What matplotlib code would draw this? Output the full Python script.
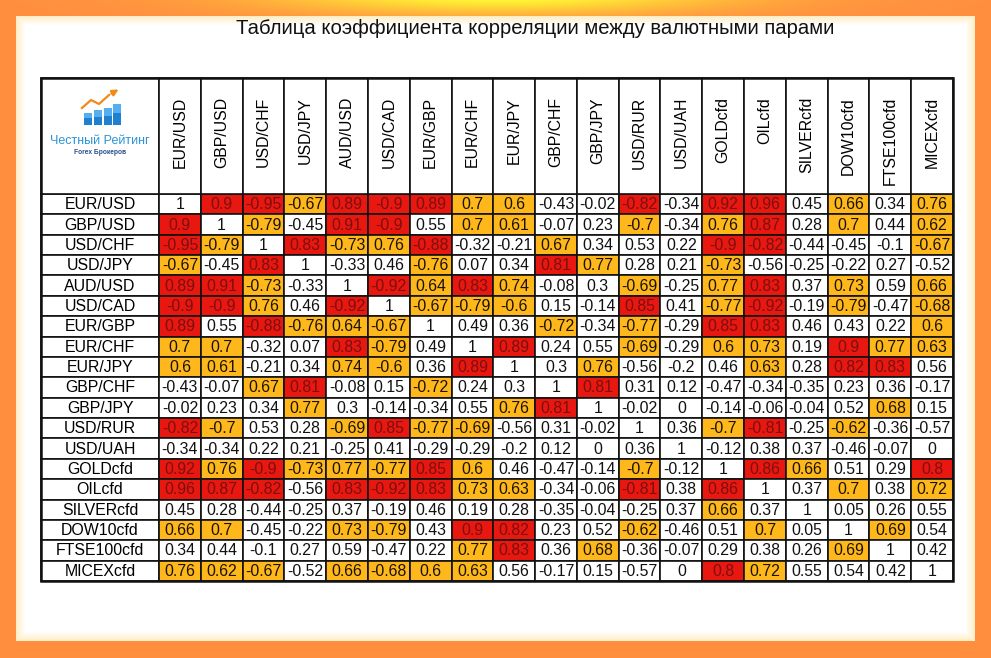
import numpy as np
import matplotlib.pyplot as plt
from matplotlib.patches import Rectangle, FancyArrowPatch

# tickers (rows and columns are the same)
pairs = ["EUR/USD", "GBP/USD", "USD/CHF", "USD/JPY", "AUD/USD", "USD/CAD",
         "EUR/GBP", "EUR/CHF", "EUR/JPY", "GBP/CHF", "GBP/JPY", "USD/RUR",
         "USD/UAH", "GOLDcfd", "OILcfd", "SILVERcfd", "DOW10cfd", "FTSE100cfd",
         "MICEXcfd"]

corr = [
    [1, 0.9, -0.95, -0.67, 0.89, -0.9, 0.89, 0.7, 0.6, -0.43, -0.02, -0.82, -0.34, 0.92, 0.96, 0.45, 0.66, 0.34, 0.76],
    [0.9, 1, -0.79, -0.45, 0.91, -0.9, 0.55, 0.7, 0.61, -0.07, 0.23, -0.7, -0.34, 0.76, 0.87, 0.28, 0.7, 0.44, 0.62],
    [-0.95, -0.79, 1, 0.83, -0.73, 0.76, -0.88, -0.32, -0.21, 0.67, 0.34, 0.53, 0.22, -0.9, -0.82, -0.44, -0.45, -0.1, -0.67],
    [-0.67, -0.45, 0.83, 1, -0.33, 0.46, -0.76, 0.07, 0.34, 0.81, 0.77, 0.28, 0.21, -0.73, -0.56, -0.25, -0.22, 0.27, -0.52],
    [0.89, 0.91, -0.73, -0.33, 1, -0.92, 0.64, 0.83, 0.74, -0.08, 0.3, -0.69, -0.25, 0.77, 0.83, 0.37, 0.73, 0.59, 0.66],
    [-0.9, -0.9, 0.76, 0.46, -0.92, 1, -0.67, -0.79, -0.6, 0.15, -0.14, 0.85, 0.41, -0.77, -0.92, -0.19, -0.79, -0.47, -0.68],
    [0.89, 0.55, -0.88, -0.76, 0.64, -0.67, 1, 0.49, 0.36, -0.72, -0.34, -0.77, -0.29, 0.85, 0.83, 0.46, 0.43, 0.22, 0.6],
    [0.7, 0.7, -0.32, 0.07, 0.83, -0.79, 0.49, 1, 0.89, 0.24, 0.55, -0.69, -0.29, 0.6, 0.73, 0.19, 0.9, 0.77, 0.63],
    [0.6, 0.61, -0.21, 0.34, 0.74, -0.6, 0.36, 0.89, 1, 0.3, 0.76, -0.56, -0.2, 0.46, 0.63, 0.28, 0.82, 0.83, 0.56],
    [-0.43, -0.07, 0.67, 0.81, -0.08, 0.15, -0.72, 0.24, 0.3, 1, 0.81, 0.31, 0.12, -0.47, -0.34, -0.35, 0.23, 0.36, -0.17],
    [-0.02, 0.23, 0.34, 0.77, 0.3, -0.14, -0.34, 0.55, 0.76, 0.81, 1, -0.02, 0, -0.14, -0.06, -0.04, 0.52, 0.68, 0.15],
    [-0.82, -0.7, 0.53, 0.28, -0.69, 0.85, -0.77, -0.69, -0.56, 0.31, -0.02, 1, 0.36, -0.7, -0.81, -0.25, -0.62, -0.36, -0.57],
    [-0.34, -0.34, 0.22, 0.21, -0.25, 0.41, -0.29, -0.29, -0.2, 0.12, 0, 0.36, 1, -0.12, 0.38, 0.37, -0.46, -0.07, 0],
    [0.92, 0.76, -0.9, -0.73, 0.77, -0.77, 0.85, 0.6, 0.46, -0.47, -0.14, -0.7, -0.12, 1, 0.86, 0.66, 0.51, 0.29, 0.8],
    [0.96, 0.87, -0.82, -0.56, 0.83, -0.92, 0.83, 0.73, 0.63, -0.34, -0.06, -0.81, 0.38, 0.86, 1, 0.37, 0.7, 0.38, 0.72],
    [0.45, 0.28, -0.44, -0.25, 0.37, -0.19, 0.46, 0.19, 0.28, -0.35, -0.04, -0.25, 0.37, 0.66, 0.37, 1, 0.05, 0.26, 0.55],
    [0.66, 0.7, -0.45, -0.22, 0.73, -0.79, 0.43, 0.9, 0.82, 0.23, 0.52, -0.62, -0.46, 0.51, 0.7, 0.05, 1, 0.69, 0.54],
    [0.34, 0.44, -0.1, 0.27, 0.59, -0.47, 0.22, 0.77, 0.83, 0.36, 0.68, -0.36, -0.07, 0.29, 0.38, 0.26, 0.69, 1, 0.42],
    [0.76, 0.62, -0.67, -0.52, 0.66, -0.68, 0.6, 0.63, 0.56, -0.17, 0.15, -0.57, 0, 0.8, 0.72, 0.55, 0.54, 0.42, 1],
]

title = "Таблица коэффициента корреляции между валютными парами"

plt.rcParams['font.family'] = ['Liberation Sans', 'DejaVu Sans']

W, H = 991, 658
fig = plt.figure(figsize=(W / 100, H / 100), dpi=100)
ax = fig.add_axes([0, 0, 1, 1])
ax.set_xlim(0, W)
ax.set_ylim(H, 0)
ax.axis('off')

# orange frame with a yellow glow at the top middle
xx, yy = np.meshgrid(np.arange(W), np.arange(H))
glow = np.exp(-((xx - 500) / 230.0) ** 2) * np.clip(1 - yy / 22.0, 0, 1)
orange = np.array([1.0, 0.56, 0.25])
yellow = np.array([1.0, 0.96, 0.2])
bg = orange[None, None, :] * (1 - glow[..., None]) + yellow[None, None, :] * glow[..., None]
ax.imshow(bg, extent=(0, W, H, 0), zorder=0, aspect='auto')

# white panel with a soft cream rim
pl, pt, pr, pb = 16, 16, 975, 641
for k in range(10):
    t = k / 9
    c = (1.0, 0.93 + 0.07 * t, 0.78 + 0.22 * t)
    ax.add_patch(Rectangle((pl + k, pt + k), pr - pl - 2 * k, pb - pt - 2 * k,
                           facecolor=c, edgecolor='none', zorder=1))

ax.text(535, 28, title, ha='center', va='center', fontsize=14.6,
        color='#111111', zorder=5)

# table geometry
left, lab_right, right = 41, 159, 953
head_top, head_bot, bottom = 78, 194, 581
n = len(pairs)
cw = (right - lab_right) / n
rh = (bottom - head_bot) / n

red = '#E8170F'
amber = '#FFB81C'

for i in range(n):
    y0 = head_bot + i * rh
    ax.add_patch(Rectangle((left, y0), lab_right - left, rh, facecolor='white',
                           edgecolor='#111111', lw=1.2, zorder=3))
    ax.text((left + lab_right) / 2, y0 + rh / 2 + 0.5, pairs[i], ha='center',
            va='center', fontsize=11.4, zorder=5)
    for j in range(n):
        v = corr[i][j]
        x0 = lab_right + j * cw
        if i != j and abs(v) >= 0.8:
            fc, tc = red, '#7a1010'
        elif i != j and abs(v) >= 0.6:
            fc, tc = amber, '#1a1205'
        else:
            fc, tc = 'white', '#111111'
        ax.add_patch(Rectangle((x0, y0), cw, rh, facecolor=fc,
                               edgecolor='#111111', lw=1.2, zorder=3))
        ax.text(x0 + cw / 2, y0 + rh / 2 + 0.5, f"{v:g}", ha='center',
                va='center', fontsize=11.4, color=tc, zorder=5)

# header cells with rotated labels
ax.add_patch(Rectangle((left, head_top), lab_right - left, head_bot - head_top,
                       facecolor='white', edgecolor='#111111', lw=1.2, zorder=3))
for j in range(n):
    x0 = lab_right + j * cw
    ax.add_patch(Rectangle((x0, head_top), cw, head_bot - head_top, facecolor='white',
                           edgecolor='#111111', lw=1.2, zorder=3))
    ax.text(x0 + cw / 2, head_top + 19, pairs[j], rotation=90, ha='center',
            va='top', fontsize=11.4, zorder=5)

# outer border
ax.add_patch(Rectangle((left, head_top), right - left, bottom - head_top,
                       facecolor='none', edgecolor='#111111', lw=1.8, zorder=4))

# logo: rising bars with an arrow
bar_x = [84, 94, 104, 113]
bar_h = [12, 15, 17, 21]
for bx, bh in zip(bar_x, bar_h):
    ax.add_patch(Rectangle((bx, 125 - bh), 8, bh, facecolor='#1f7fd0',
                           edgecolor='none', zorder=5))
    ax.add_patch(Rectangle((bx, 125 - bh), 8, bh * 0.45, facecolor='#55aef0',
                           edgecolor='none', zorder=5))
ax.plot([82, 91, 99, 109], [108, 100, 104, 95], color='#f08a1a', lw=1.6, zorder=6)
ax.add_patch(FancyArrowPatch((109, 95), (121, 88), arrowstyle='-|>', mutation_scale=9,
                             color='#f08a1a', lw=1.6, zorder=6))
ax.text(100, 141, "Честный Рейтинг", ha='center', va='center', fontsize=9,
        color='#2a94d6', zorder=6)
ax.text(100, 152, "Forex Брокеров", ha='center', va='center', fontsize=4.8,
        color='#2a4f8a', fontweight='bold', zorder=6)

fig.savefig("out.png", dpi=100)
